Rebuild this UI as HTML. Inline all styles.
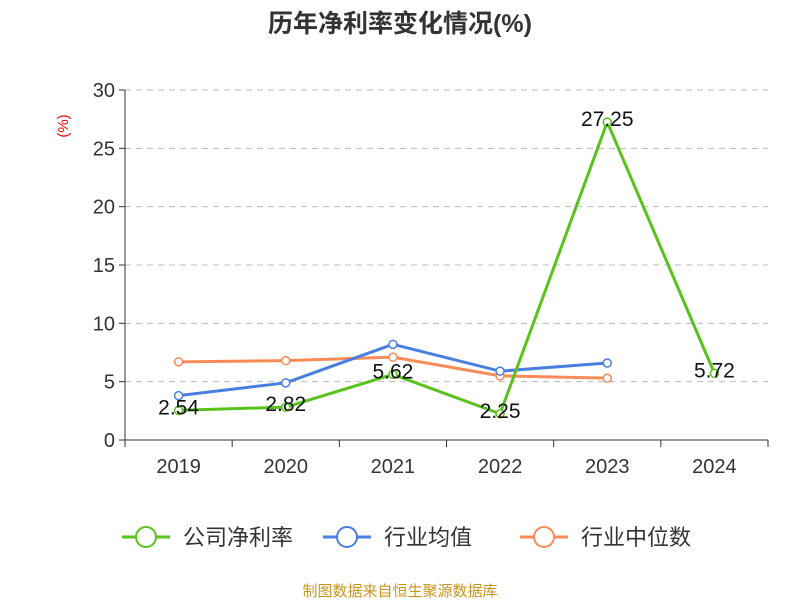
<!DOCTYPE html>
<html><head><meta charset="utf-8"><style>
body{margin:0;background:#fff;}
svg text{font-family:"Liberation Sans","Noto Sans CJK SC",sans-serif;}
</style></head><body>
<svg id="c" width="800" height="600" xmlns="http://www.w3.org/2000/svg">
<text x="400" y="32" text-anchor="middle" font-size="25" font-weight="bold" fill="#333">历年净利率变化情况(%)</text>
<text transform="translate(68,126) rotate(-90)" text-anchor="middle" font-size="15" fill="#e00">(%)</text>
<g id="grid"></g><g id="axes"></g><g id="series"></g>
<g id="legend"></g>
<text x="400" y="596" text-anchor="middle" font-size="15" fill="#c8961e">制图数据来自恒生聚源数据库</text>
</svg>
<script>
const categories=["2019","2020","2021","2022","2023","2024"];
const yTicks=[0,5,10,15,20,25,30];
const companyValues=[2.54,2.82,5.62,2.25,27.25,5.72];
const industryAvg=[3.8,4.9,8.2,5.9,6.6,null];
const industryMedian=[6.7,6.8,7.1,5.5,5.3,null];
const seriesNames=["公司净利率","行业均值","行业中位数"];
const colors=["#5ac21e","#4a7fe0","#f98b58"];
const L=125,R=768,T=90,B=440;
const ns="http://www.w3.org/2000/svg";
const bw=(R-L)/categories.length;
const x=i=>L+bw*(i+0.5);
const y=v=>B-(v/30)*(B-T);
function mk(tag,attrs,parent){const e=document.createElementNS(ns,tag);for(const k in attrs)e.setAttribute(k,attrs[k]);parent.appendChild(e);return e;}
const grid=document.getElementById('grid'),axes=document.getElementById('axes'),ser=document.getElementById('series'),leg=document.getElementById('legend');
yTicks.forEach(t=>{
 if(t>0){const g=mk('line',{x1:L,x2:R,y1:y(t),y2:y(t),stroke:'#bbb','stroke-dasharray':'6,5'},grid);
 
 }
 const tk=mk('line',{x1:L-6,x2:L,y1:y(t),y2:y(t),stroke:'#333'},axes);
 
 
 const tl=mk('text',{x:L-10,y:y(t)+7,'text-anchor':'end','font-size':20,fill:'#333'},axes);tl.textContent=t;
 
 
});
const ya=mk('line',{x1:L,x2:L,y1:T,y2:B,stroke:'#333'},axes);


const xa=mk('line',{x1:L,x2:R,y1:B,y2:B,stroke:'#333'},axes);


for(let i=0;i<=categories.length;i++){const tk=mk('line',{x1:L+bw*i,x2:L+bw*i,y1:B,y2:B+7,stroke:'#333'},axes);
 
 }
categories.forEach((c,i)=>{const t=mk('text',{x:x(i),y:B+33,'text-anchor':'middle','font-size':20,fill:'#333'},axes);t.textContent=c;
 
 });
function drawSeries(vals,color,name,labels){
 const pts=vals.map((v,i)=>v==null?null:[x(i),y(v)]).filter(p=>p);
 const pl=mk('polyline',{points:pts.map(p=>p.join(',')).join(' '),fill:'none',stroke:color,'stroke-width':3},ser);
 
 
 vals.forEach((v,i)=>{if(v==null)return;
  const c=mk('circle',{cx:x(i),cy:y(v),r:4,fill:'#fff',stroke:color,'stroke-width':1.5},ser);
  
  
  if(labels){const t=mk('text',{x:x(i),y:y(v)+4,'text-anchor':'middle','font-size':21,fill:'#111'},ser);t.textContent=v.toFixed(2);
   
   }
 });
}
drawSeries(industryMedian,colors[2],'industry-median',false);
drawSeries(industryAvg,colors[1],'industry-average',false);
drawSeries(companyValues,colors[0],'company-net-margin',true);
const lx=[122,323,520];
seriesNames.forEach((n,i)=>{
 const g=mk('g',{},leg);
 
 
 mk('line',{x1:lx[i],x2:lx[i]+48,y1:537,y2:537,stroke:colors[i],'stroke-width':3},g);
 mk('circle',{cx:lx[i]+24,cy:537,r:10,fill:'#fff',stroke:colors[i],'stroke-width':2},g);
 const t=mk('text',{x:lx[i]+61,y:545,'font-size':22,fill:'#333'},g);t.textContent=n;
});
</script>
</body></html>
